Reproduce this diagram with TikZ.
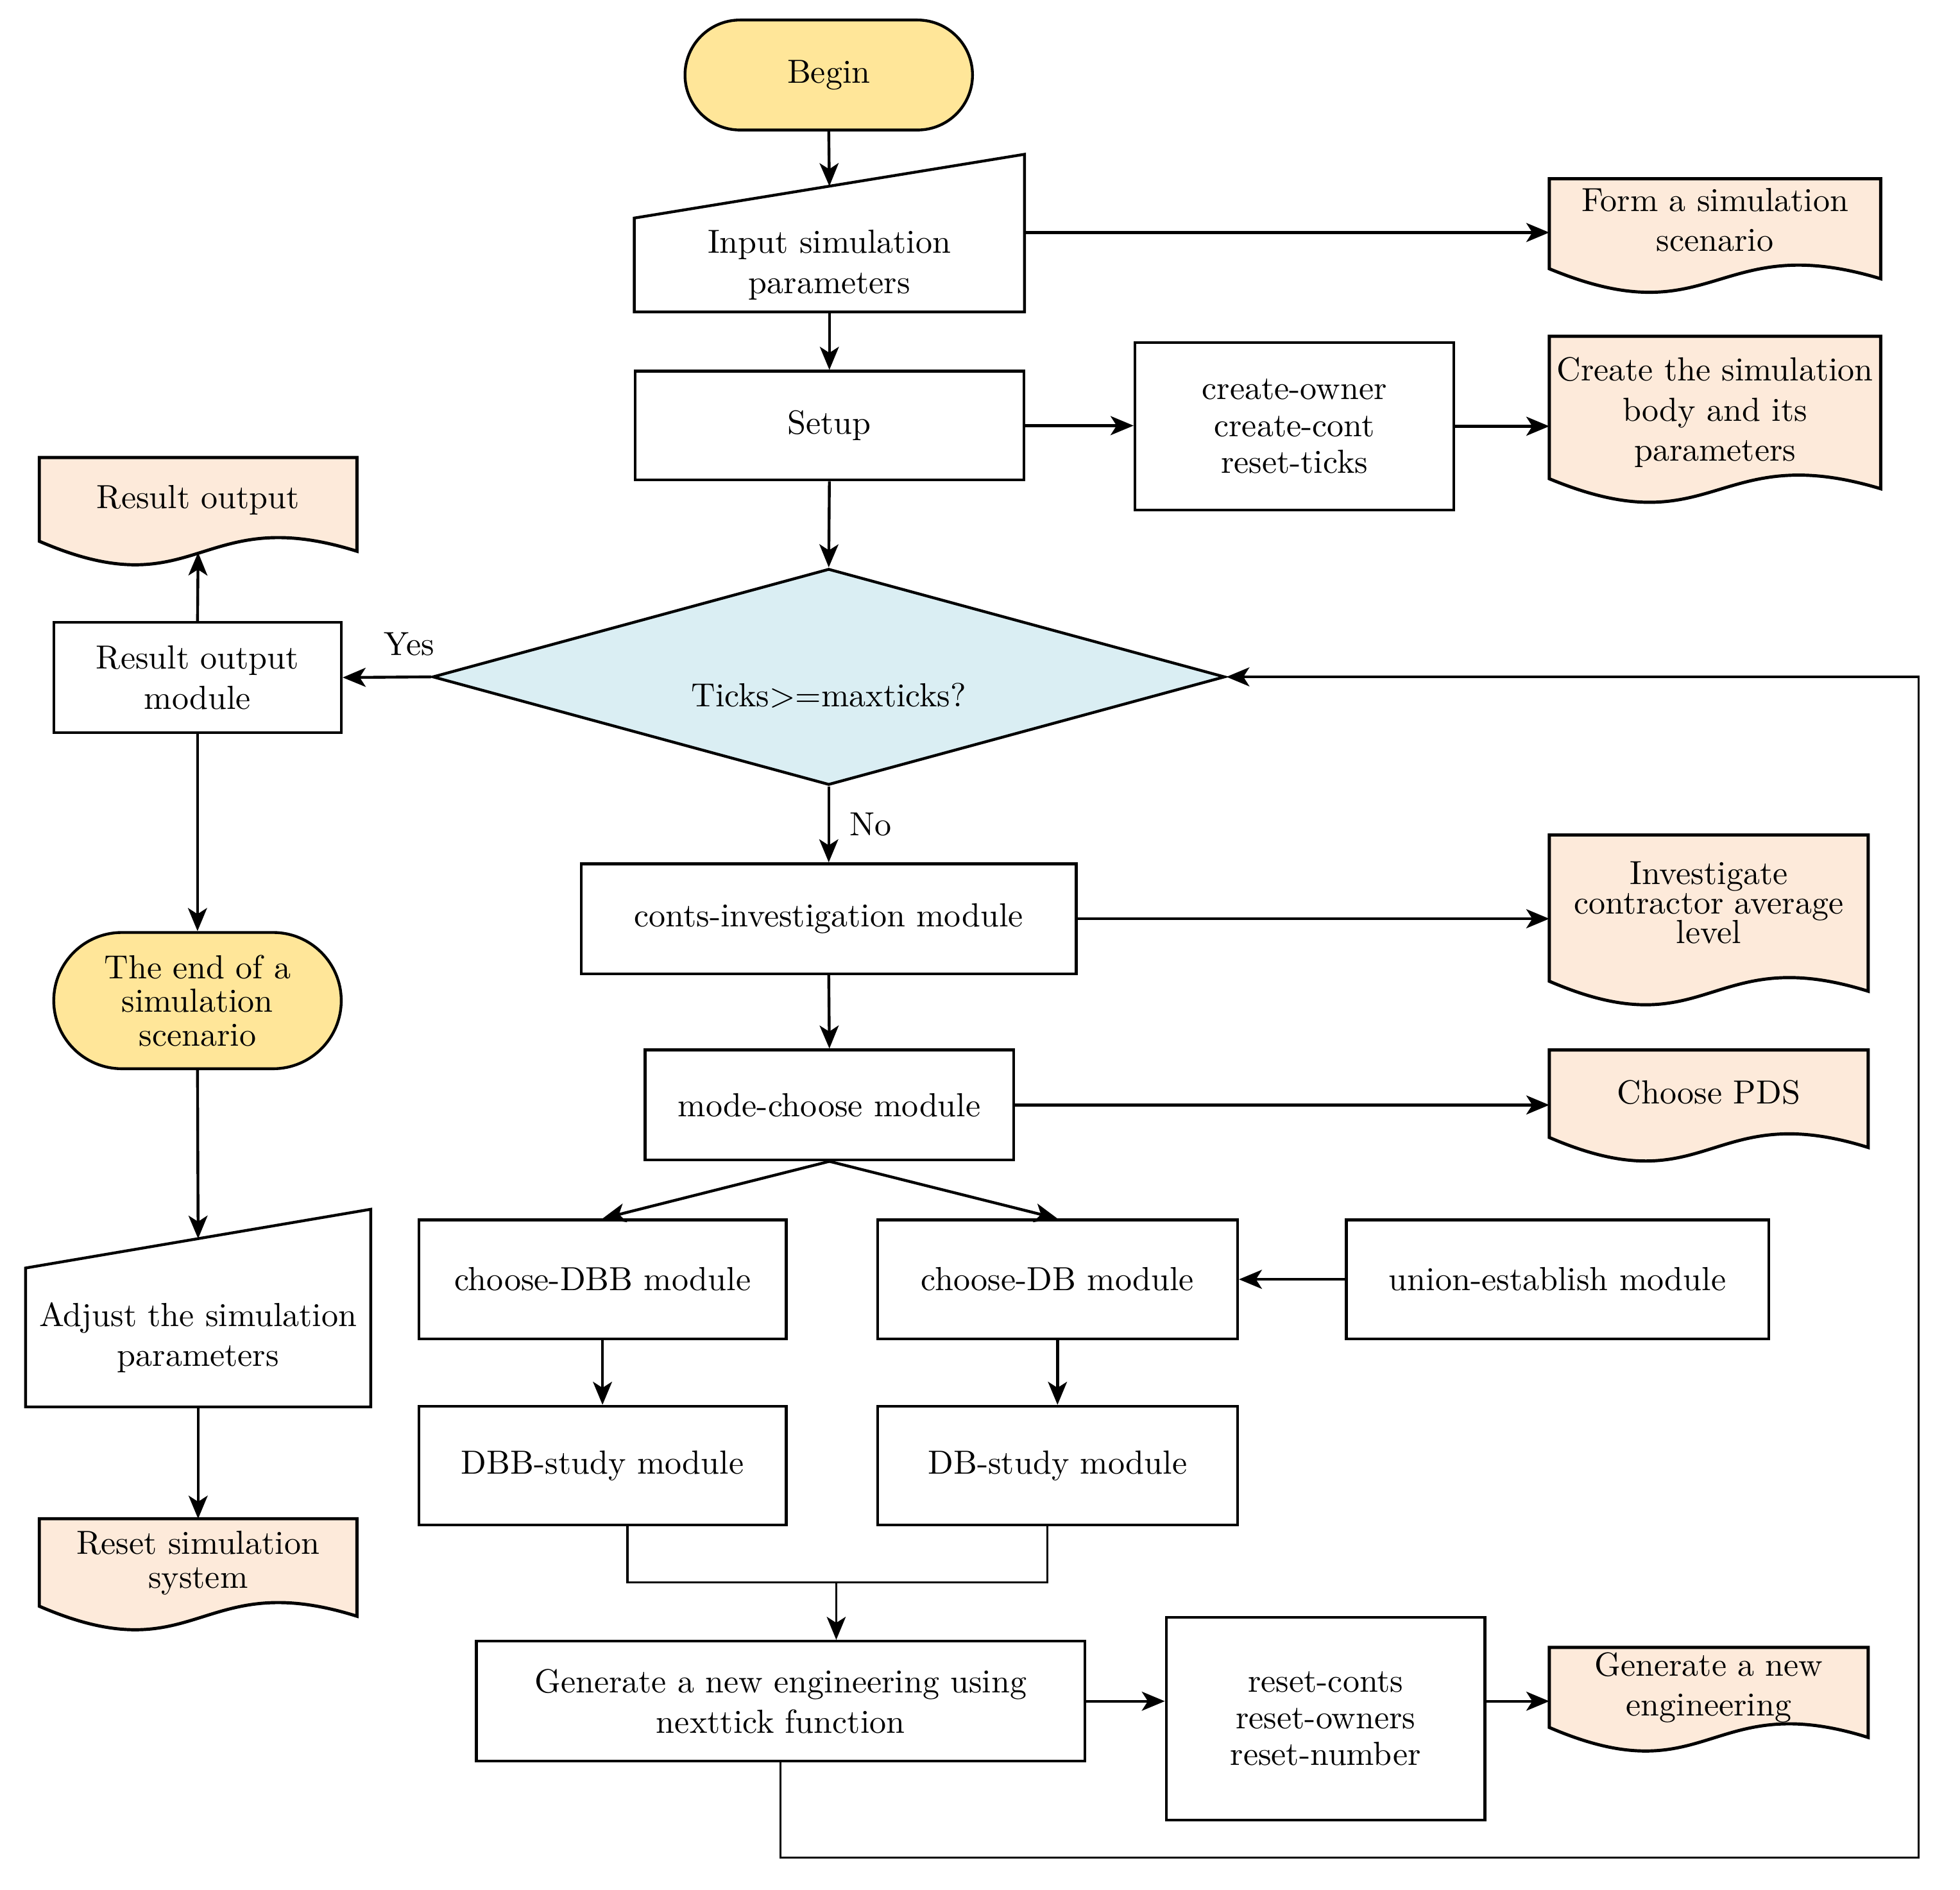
\documentclass[tikz,border=0pt]{standalone}
\usetikzlibrary{calc,positioning,shapes.geometric,shapes.misc,arrows.meta,backgrounds}
\definecolor{termclr}{HTML}{FFE699}
\definecolor{docclr}{HTML}{FDEADA}
\definecolor{decclr}{HTML}{DAEEF3}
% document shape with wavy bottom, #2 = top and #3 = bottom distance from the text centre
\newcommand{\docshape}[3]{%
    \draw[line width=0.9pt, fill=docclr] ($(#1.west)+(0,#3)$) -- ($(#1.west)+(0,-#2)$) -- ($(#1.east)+(0,-#2)$) -- ($(#1.east)+(0,#3+8)$)
        .. controls ($(#1.center)+(0,#3-32)$) and ($(#1.center)+(0,#3+55)$) .. ($(#1.west)+(0,#3)$) -- cycle;
}
\newcommand{\tightlines}{\fontsize{9.5}{8.4}\selectfont\lineskiplimit=-100pt\relax}
\begin{document}
\begin{tikzpicture}[x=0.125mm, y=-0.125mm,
    every node/.style={font=\fontsize{9.5}{11.4}\selectfont, align=center, inner sep=0pt},
    proc/.style={draw, line width=0.8pt, rectangle},
    term/.style={draw, line width=0.8pt, rounded rectangle, fill=termclr},
    dec/.style={draw, line width=0.8pt, diamond, shape aspect=3.66, fill=decclr},
    arr/.style={-{Stealth[length=2.3mm, width=1.9mm, inset=0.6mm]}, line width=0.8pt},
    thinline/.style={line width=0.6pt}]
    \useasboundingbox (0,0) rectangle (1568,1512);

    %main column
    \node[term, minimum width=2.875cm, minimum height=1.1cm] (begin) at (663,60) {Begin};
    \node[minimum width=3.8875cm, minimum height=0.925cm] (input) at (663.5,212) {Input simulation\\parameters};
    \node[proc, minimum width=3.8875cm, minimum height=1.0875cm] (setup) at (663.5,340.5) {Setup};
    \node[proc, minimum width=3.1875cm, minimum height=1.675cm, font=\fontsize{9.5}{10.5}\selectfont] (cbox) at (1035.5,341) {create-owner\\create-cont\\reset-ticks};
    \node[dec, minimum width=7.925cm, minimum height=2.1625cm] (ticks) at (663,541.5) {\raisebox{-3mm}[0pt][0pt]{Ticks>=maxticks?}};
    \node[proc, minimum width=4.95cm, minimum height=1.1cm] (conts) at (663,735) {conts-investigation module};
    \node[proc, minimum width=3.6875cm, minimum height=1.1cm] (mode) at (663.5,884) {mode-choose module};
    \node[proc, minimum width=3.675cm, minimum height=1.1875cm] (dbb) at (482,1023.5) {choose-DBB module};
    \node[proc, minimum width=3.6cm, minimum height=1.1875cm] (db) at (846,1023.5) {choose-DB module};
    \node[proc, minimum width=4.225cm, minimum height=1.1875cm] (union) at (1246,1023.5) {union-establish module};
    \node[proc, minimum width=3.675cm, minimum height=1.1875cm] (dbbstudy) at (482,1172.5) {DBB-study module};
    \node[proc, minimum width=3.6cm, minimum height=1.1875cm] (dbstudy) at (846,1172.5) {DB-study module};
    \node[proc, minimum width=6.0875cm, minimum height=1.2cm] (gen) at (624.5,1361) {Generate a new engineering using\\nexttick function};
    \node[proc, minimum width=3.1875cm, minimum height=2.025cm, font=\fontsize{9.5}{10.4}\selectfont] (rbox) at (1060.5,1375) {reset-conts\\reset-owners\\reset-number};

    %documents on the right
    \node[minimum width=3.3cm] (form) at (1372,176) {Form a simulation\\scenario};
    \node[minimum width=3.3cm] (body) at (1372,330) {Create the simulation\\body and its\\parameters};
    \node[minimum width=3.175cm, font=\tightlines] (invest) at (1367,722) {Investigate\\contractor average\\level};
    \node[minimum width=3.175cm] (pds) at (1367,874) {Choose PDS};
    \node[minimum width=3.175cm] (gendoc) at (1367,1350) {Generate a new\\engineering};

    %left column
    \node[minimum width=3.1625cm] (resout) at (158.5,400) {Result output};
    \node[proc, minimum width=2.875cm, minimum height=1.1cm] (resmod) at (158,542) {Result output\\module};
    \node[term, minimum width=2.875cm, minimum height=1.3625cm, font=\fontsize{9.5}{9.6}\selectfont] (endsc) at (158,800.5) {The end of a\\simulation\\scenario};
    \node[minimum width=3.4375cm, minimum height=1.375cm] (adjust) at (158.5,1070) {Adjust the simulation\\parameters};
    \node[minimum width=3.1625cm, font=\fontsize{9.5}{9.6}\selectfont] (resetdoc) at (158.5,1250.5) {Reset simulation\\system};

    \begin{scope}[on background layer]
        \foreach \d/\t/\b in {form/33/39, body/61/53, invest/54/63, pds/34/36, gendoc/32/32, resout/34/33, resetdoc/35.5/34.5} {
            \docshape{\d}{\t}{\b}
        }
        \foreach \m/\s in {input/51, adjust/47} {
            \draw[line width=0.8pt, fill=white] (\m.south west) -- (\m.north west) -- ($(\m.north east)+(0,-\s)$) -- (\m.south east) -- cycle;
        }
    \end{scope}

    %connectors
    \draw[arr] (begin.south) -- ($(input.north)+(0,-25.5)$);
    \draw[arr] (endsc.south) -- ($(adjust.north)+(0,-23.5)$);
    \coordinate (inr) at ($(input.east)+(0,-26)$);
    \draw[arr] (inr) -- (inr -| form.west);
    \foreach \a/\b in {input/setup, setup/ticks, ticks/conts, conts/mode, dbb/dbbstudy, db/dbstudy, resmod/endsc, mode/dbb, mode/db} {
        \draw[arr] (\a.south) -- (\b.north);
    }
    \draw[arr] (adjust.south) -- ($(resetdoc.center)+(0,-35.5)$);
    \foreach \a/\b in {setup/cbox, cbox/body, conts/invest, mode/pds, gen/rbox} {
        \draw[arr] (\a.east) -- (\a.east -| \b.west);
    }
    \draw[arr] (gen.east -| rbox.east) -- (gen.east -| gendoc.west);
    \draw[arr] (union.west) -- (db.east);
    \draw[arr] (resmod.north) -- ($(resout.center)+(0,42)$);
    \draw[arr] (ticks.west) -- node[pos=0.25, above=2mm] {Yes} (resmod.east);
    \node[right=2mm] (nolbl) at ($(ticks.south)!0.5!(conts.north)$) {No};

    \coordinate (merge) at (669,1266);
    \draw[thinline] ($(dbbstudy.south)+(20,0)$) |- (merge) -| ($(dbstudy.south)+(-8,0)$);
    \draw[arr, thinline] (merge) -- (merge |- gen.north);
    \coordinate (loopc) at (1535,1486);
    \draw[arr, thinline] (gen.south) |- (loopc) |- (ticks.east);
\end{tikzpicture}
\end{document}
